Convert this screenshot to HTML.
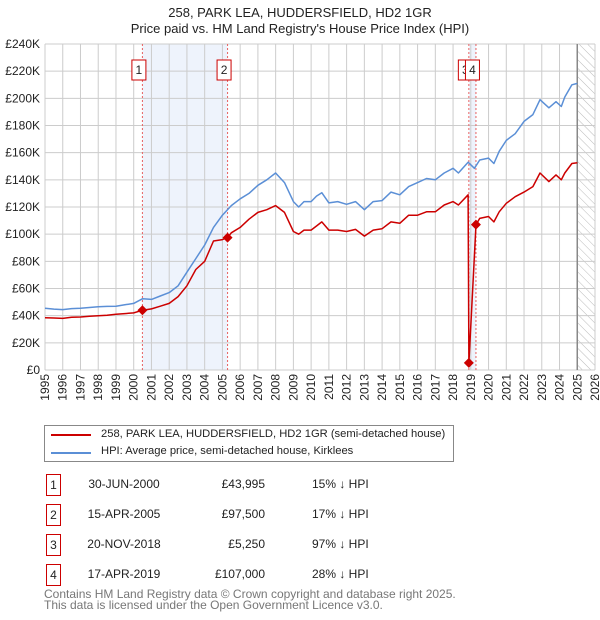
<!DOCTYPE html>
<html><head><meta charset="utf-8"><style>
body{margin:0;background:#fff;font-family:"Liberation Sans","DejaVu Sans",sans-serif;}
#wrap{position:relative;width:600px;height:620px;overflow:hidden}
</style></head><body><div id="wrap">
<svg id="svg" width="600" height="620" xmlns="http://www.w3.org/2000/svg" font-family="Liberation Sans, DejaVu Sans, sans-serif">
<defs><pattern id="hatch" width="6" height="6" patternUnits="userSpaceOnUse" patternTransform="rotate(-45)"><line x1="0" y1="0" x2="0" y2="6" stroke="#bbb" stroke-width="1"/></pattern></defs>
<text x="300" y="17" text-anchor="middle" font-size="13" fill="#222">258, PARK LEA, HUDDERSFIELD, HD2 1GR</text>
<text x="300" y="33" text-anchor="middle" font-size="13" fill="#222">Price paid vs. HM Land Registry's House Price Index (HPI)</text>
<g id="plot"></g>
</svg>
<div style="position:absolute;left:44px;top:425px;width:408px;height:35px;border:1px solid #888;font-size:11.2px;color:#222">
<div style="position:absolute;left:6px;top:8px;width:40px;height:2px;background:#cc0000"></div>
<div style="position:absolute;left:56px;top:2px;white-space:nowrap">258, PARK LEA, HUDDERSFIELD, HD2 1GR (semi-detached house)</div>
<div style="position:absolute;left:6px;top:26px;width:40px;height:2px;background:#5b8fd6"></div>
<div style="position:absolute;left:56px;top:19px;white-space:nowrap">HPI: Average price, semi-detached house, Kirklees</div>
</div>
<div id="table" style="font-size:12px;color:#222"></div>
<div style="position:absolute;left:44px;top:589px;font-size:12px;color:#777;line-height:11px">Contains HM Land Registry data © Crown copyright and database right 2025.<br>This data is licensed under the Open Government Licence v3.0.</div>
</div>
<script>
const hpiYears=[1995,1995.5,1996,1996.5,1997,1997.5,1998,1998.5,1999,1999.5,2000,2000.5,2001,2001.5,2002,2002.5,2003,2003.5,2004,2004.5,2005,2005.5,2006,2006.5,2007,2007.5,2008,2008.5,2009,2009.3,2009.6,2010,2010.3,2010.6,2011,2011.5,2012,2012.5,2013,2013.5,2014,2014.5,2015,2015.5,2016,2016.5,2017,2017.5,2018,2018.3,2018.85,2019.2,2019.5,2020,2020.3,2020.6,2021,2021.5,2022,2022.5,2022.9,2023.4,2023.8,2024.1,2024.3,2024.7,2025];
const hpiValues=[45.4,44.8,44.5,45.2,45.5,46,46.5,46.8,47,48,49,52.5,52,54.5,57,62,72,82,92,105,114,121,126,130,136,140,145,138,124,120,124,124,128,130.5,123,124,122,124,118,124,124.7,131,129,135,138,141,140,145,148.5,145,153,148.5,154.6,156,152,161,169,174,183,188,199,193,197.5,194,201,210,211];
const redYears=[1995,1995.5,1996,1996.5,1997,1997.5,1998,1998.5,1999,1999.5,2000,2000.5,2001,2001.5,2002,2002.5,2003,2003.5,2004,2004.5,2005,2005.29,2005.5,2006,2006.5,2007,2007.5,2008,2008.5,2009,2009.3,2009.6,2010,2010.3,2010.6,2011,2011.5,2012,2012.5,2013,2013.5,2014,2014.5,2015,2015.5,2016,2016.5,2017,2017.5,2018,2018.3,2018.85,2018.89,2019.29,2019.5,2020,2020.3,2020.6,2021,2021.5,2022,2022.5,2022.9,2023.4,2023.8,2024.1,2024.3,2024.7,2025];
const redValues=[38.5,38.3,38,38.8,39,39.5,40,40.3,41,41.5,42,44,45,47,49,54,62,74,80,95,96,97.5,101,105,111,116,118,121,116,102,100,103,103,106,109,103,103,102,103.5,98.6,103,104,109,108,114,114,116.5,116.5,121.5,124,121.5,129,5.25,107,111.6,113,109,116.5,122.7,127.6,131,135,145,138.7,143.6,140,145,152,152.6];
const saleLabels=["1","2","3","4"];
const saleYears=[2000.49,2005.29,2018.89,2019.29];
const salePrices=[43.995,97.5,5.25,107];
const saleDates=["30-JUN-2000","15-APR-2005","20-NOV-2018","17-APR-2019"];
const salePriceText=["£43,995","£97,500","£5,250","£107,000"];
const saleHpiText=["15% ↓ HPI","17% ↓ HPI","97% ↓ HPI","28% ↓ HPI"];
const yTicks=[0,20,40,60,80,100,120,140,160,180,200,220,240];
const yTickLabels=["£0","£20K","£40K","£60K","£80K","£100K","£120K","£140K","£160K","£180K","£200K","£220K","£240K"];
const xTicks=[1995,1996,1997,1998,1999,2000,2001,2002,2003,2004,2005,2006,2007,2008,2009,2010,2011,2012,2013,2014,2015,2016,2017,2018,2019,2020,2021,2022,2023,2024,2025,2026];

const X0=45,X1=595,Y0=370,Y1=44;
const xs=y=>X0+(y-1995)/(2026-1995)*(X1-X0);
const ys=v=>Y0-v/240*(Y0-Y1);
const NS="http://www.w3.org/2000/svg";
const plot=document.getElementById('plot');
function mk(tag,attrs,parent){const e=document.createElementNS(NS,tag);for(const k in attrs)e.setAttribute(k,attrs[k]);(parent||plot).appendChild(e);return e;}

let e=mk('rect',{x:xs(saleYears[0]),y:Y1,width:xs(saleYears[1])-xs(saleYears[0]),height:Y0-Y1,fill:'#eef3fc'});


e=mk('rect',{x:xs(saleYears[2]),y:Y1,width:xs(saleYears[3])-xs(saleYears[2]),height:Y0-Y1,fill:'#eef3fc'});


e=mk('rect',{x:xs(2025),y:Y1,width:X1-xs(2025),height:Y0-Y1,fill:'url(#hatch)'});



yTicks.forEach((t,i)=>{
  let l=mk('line',{x1:X0,x2:X1,y1:ys(t),y2:ys(t),stroke:'#cccccc','stroke-width':1});
  
  
  let tx=mk('text',{x:X0-5,y:ys(t)+4,'text-anchor':'end','font-size':12,fill:'#222'});
  tx.textContent=yTickLabels[i];
  
  
});
xTicks.forEach(t=>{
  let l=mk('line',{x1:xs(t),x2:xs(t),y1:Y1,y2:Y0,stroke:'#cccccc','stroke-width':1});
  
  
  let tx=mk('text',{x:0,y:0,'text-anchor':'end','font-size':12,fill:'#222',transform:`translate(${xs(t)+4},374) rotate(-90)`});
  tx.textContent=t;
  
  
});
e=mk('line',{x1:xs(2025),x2:xs(2025),y1:Y1,y2:Y0,stroke:'#888','stroke-width':1.5});



saleYears.forEach((y,i)=>{
  let l=mk('line',{x1:xs(y),x2:xs(y),y1:Y1,y2:Y0,stroke:'#e86060','stroke-width':1,'stroke-dasharray':'2,2'});
  
  
});
function path(xa,va,col,name){
  const d=xa.map((x,i)=>(i?'L':'M')+xs(x).toFixed(1)+','+ys(va[i]).toFixed(1)).join('');
  const p=mk('path',{d:d,fill:'none',stroke:col,'stroke-width':1.5,'stroke-linejoin':'round'});
  
  
}
path(hpiYears,hpiValues,'#5b8fd6','hpi-line');
path(redYears,redValues,'#cc0000','property-price-line');
saleYears.forEach((y,i)=>{
  const cx=xs(y),cy=ys(salePrices[i]);
  let d=mk('path',{d:`M${cx},${cy-5}L${cx+5},${cy}L${cx},${cy+5}L${cx-5},${cy}Z`,fill:'#cc0000'});
  
  
});
saleYears.forEach((y,i)=>{
  const cx=xs(y)-3.5;
  let g=mk('g',{});
  
  
  mk('rect',{x:cx-7,y:60,width:14,height:20,fill:'#fff',stroke:'#cc0000','stroke-width':1},g);
  let t=mk('text',{x:cx,y:74,'text-anchor':'middle','font-size':12,fill:'#222'},g);
  t.textContent=saleLabels[i];
});

const tb=document.getElementById('table');
saleLabels.forEach((lab,i)=>{
  const top=474+i*30;
  const row=document.createElement('div');
  
  
  row.style.cssText=`position:absolute;left:0;top:${top}px;width:600px;height:22px;`;
  row.innerHTML=`<div style="position:absolute;left:46px;top:0;width:13px;height:20px;border:1px solid #cc0000;text-align:center;line-height:20px">${lab}</div>
<div style="position:absolute;left:64px;width:120px;text-align:center;top:3px">${saleDates[i]}</div>
<div style="position:absolute;left:165px;width:100px;text-align:right;top:3px">${salePriceText[i]}</div>
<div style="position:absolute;left:312px;top:3px">${saleHpiText[i]}</div>`;
  tb.appendChild(row);
});
</script></body></html>
